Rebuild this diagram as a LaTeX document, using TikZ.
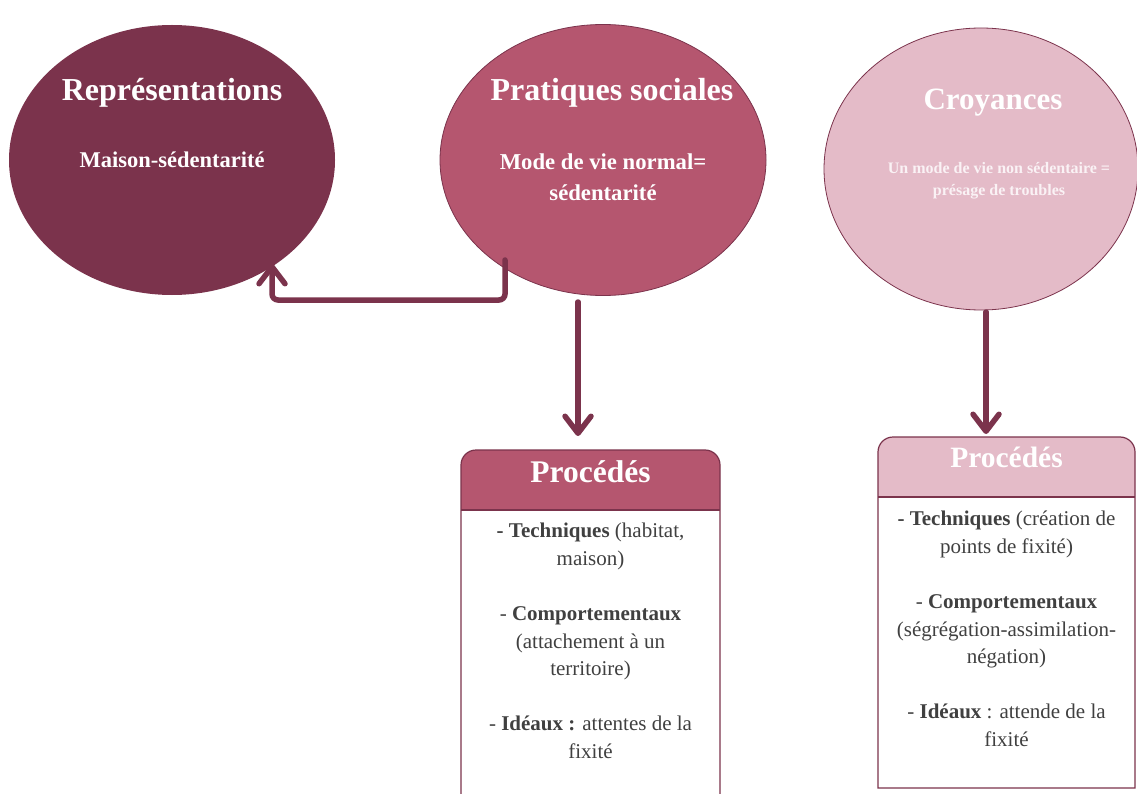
\documentclass[tikz,border=0pt]{standalone}
\usepackage{fontspec}
\setmainfont{Liberation Serif}
\usetikzlibrary{shapes.geometric,arrows.meta}
\definecolor{cDark}{HTML}{7B334C}
\definecolor{cMid}{HTML}{B5566F}
\definecolor{cLight}{HTML}{E4BBC8}
\definecolor{cText}{HTML}{404040}
\definecolor{cPale}{HTML}{FAF2F5}
\begin{document}
\begin{tikzpicture}[x=1pt,y=-1pt,
  bubble/.style={ellipse, inner sep=0pt},
  titletxt/.style={text=white, font=\fontsize{32}{36}\selectfont\bfseries, anchor=base, inner sep=0pt},
  subtxt/.style={text=white, font=\fontsize{22.7}{31}\selectfont\bfseries, anchor=base, inner sep=0pt, align=center},
  boxtxt/.style={text=cText, font=\fontsize{21}{27.6}\selectfont, anchor=base, inner sep=0pt, align=center},
  boxline/.style={draw=cDark, line width=1.2pt},
  conn/.style={draw=cDark, line width=5.5pt, line cap=round, rounded corners=6pt,
    -{Straight Barb[length=17pt, width=26pt, line cap=round, line join=round]}},
]
\useasboundingbox (0,0) rectangle (1137,794);
\clip (0,0) rectangle (1137,794);

% ellipses
\node[bubble, fill=cDark, minimum width=326pt, minimum height=270pt] (rep) at (172,160) {};
\node[bubble, fill=cMid, draw=cDark, line width=0.8pt, minimum width=326pt, minimum height=271pt] (pra) at (603,160) {};
\node[bubble, fill=cLight, draw=cDark, line width=0.8pt, minimum width=314pt, minimum height=282pt] (cro) at (981,169) {};

\node[titletxt] (repT) at (172,101) {Représentations};
\node[subtxt, font=\fontsize{22.5}{31}\selectfont\bfseries] (repS) at (172,168) {Maison-sédentarité};
\node[titletxt] (praT) at (612,101) {Pratiques sociales};
\node[subtxt] (praS) at (603,201) {Mode de vie normal=\\sédentarité};
\node[titletxt, font=\fontsize{31}{36}\selectfont\bfseries] (croT) at (993,110) {Croyances};
\node[subtxt, text=cPale, font=\fontsize{16}{22}\selectfont\bfseries] (croS) at (999,196) {Un mode de vie non sédentaire =\\présage de troubles};

% box 1
\node[minimum width=259pt, minimum height=350pt, inner sep=0pt, anchor=north] (box1) at (590.5,450) {};
\fill[cMid] (461,510) -- (461,465) arc[start angle=180, end angle=90, radius=15pt] -- (705,450) arc[start angle=90, end angle=0, radius=15pt] -- (720,510) -- cycle;
\draw[boxline] (461,800) -- (461,465) arc[start angle=180, end angle=90, radius=15pt] -- (705,450) arc[start angle=90, end angle=0, radius=15pt] -- (720,800);
\draw[boxline] (461,510) -- (720,510);
\node[titletxt, font=\fontsize{31.5}{36}\selectfont\bfseries] (box1T) at (590.5,482) {Procédés};
\node[boxtxt] (box1B) at (590.5,758.5) {\textbf{- Techniques} (habitat,\\maison)\\[27.6pt]- \textbf{Comportementaux}\\(attachement à un\\territoire)\\[27.6pt]- \textbf{Idéaux :} attentes de la\\fixité};

% box 2
\node[minimum width=257pt, minimum height=351pt, inner sep=0pt, anchor=north] (box2) at (1006.5,437) {};
\fill[cLight] (878,497) -- (878,452) arc[start angle=180, end angle=90, radius=15pt] -- (1120,437) arc[start angle=90, end angle=0, radius=15pt] -- (1135,497) -- cycle;
\draw[boxline] (878,788) -- (878,452) arc[start angle=180, end angle=90, radius=15pt] -- (1120,437) arc[start angle=90, end angle=0, radius=15pt] -- (1135,788) -- cycle;
\draw[boxline] (878,497) -- (1135,497);
\node[titletxt, font=\fontsize{29.5}{34}\selectfont\bfseries] (box2T) at (1006.5,467) {Procédés};
\node[boxtxt] (box2B) at (1006.5,746.5) {\textbf{- Techniques} (création de\\points de fixité)\\[27.6pt]- \textbf{Comportementaux}\\(ségrégation-assimilation-\\négation)\\[27.6pt]- \textbf{Idéaux} : attende de la\\fixité};

% connectors
\coordinate (c1s) at (505,260);
\coordinate (c1e) at (272,264);
\draw[conn] (c1s) -- (505,300) -- (272,300) -- (c1e);
\coordinate (c2s) at (578,302);
\coordinate (c2e) at (578,436);
\draw[conn] (c2s) -- (c2e);
\coordinate (c3s) at (986,312);
\coordinate (c3e) at (986,434);
\draw[conn] (c3s) -- (c3e);
\end{tikzpicture}
\end{document}
